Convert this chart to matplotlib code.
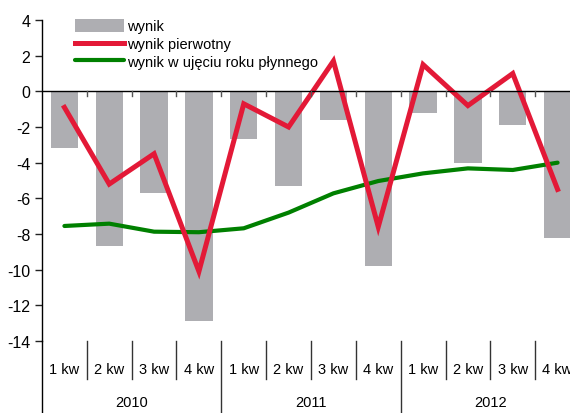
import numpy as np
import matplotlib.pyplot as plt
import matplotlib.transforms as mtransforms
from matplotlib.lines import Line2D

plt.rcParams['font.family'] = ['Liberation Sans', 'DejaVu Sans']

# --- Data ---
years = ['2010', '2011', '2012']
quarters = ['1 kw', '2 kw', '3 kw', '4 kw']
wynik = [-3.2, -8.7, -5.7, -12.9, -2.7, -5.3, -1.6, -9.8, -1.2, -4.0, -1.9, -8.2]
wynik_pierwotny = [-0.9, -5.2, -3.5, -10.1, -0.7, -2.0, 1.7, -7.6, 1.5, -0.8, 1.0, -5.5]
wynik_roku = [-7.55, -7.42, -7.87, -7.9, -7.68, -6.8, -5.72, -5.03, -4.6, -4.32, -4.41, -4.0]
y_ticks = [4, 2, 0, -2, -4, -6, -8, -10, -12, -14]

W, H = 570, 414
fig = plt.figure(figsize=(W / 100, H / 100), dpi=100)
ax = fig.add_axes([42 / W, 1 - 342 / H, (580 - 42) / W, (342 - 21) / H])

n = len(wynik)
x = np.arange(n)
fs = 10.5

bars = ax.bar(x, wynik, width=0.61, color='#AEAEB2', label='wynik', zorder=2)
l1, = ax.plot(x, wynik_pierwotny, color='#E31937', lw=3.6, label='wynik pierwotny',
              solid_joinstyle='miter', zorder=4)
l2, = ax.plot(x, wynik_roku, color='#008000', lw=3.0, label='wynik w ujęciu roku płynnego',
              solid_capstyle='round', zorder=3)

ax.axhline(0, color='black', lw=1.0, zorder=5)

ax.set_xlim(-0.5, n - 0.5)
ax.set_ylim(-14, 4)
ax.set_yticks(y_ticks)
ax.set_yticklabels([str(t) for t in y_ticks], fontsize=11.5)
ax.tick_params(axis='y', direction='out', length=5, width=1, pad=3.5, color='#222222')
ax.set_xticks([])
for s in ['top', 'right', 'bottom']:
    ax.spines[s].set_visible(False)
ax.spines['left'].set_linewidth(1)

# small ticks on the zero line between categories
for b in np.arange(0.5, n - 0.5, 1):
    ax.plot([b, b], [0, -0.28], color='#555555', lw=1, zorder=5)

# category axis below the plot
tr = mtransforms.blended_transform_factory(ax.transData, ax.transAxes)
ax_h_px = 342 - 21
def ay(py):
    return (342 - py) / ax_h_px

for i in range(n):
    ax.text(x[i], ay(370), quarters[i % 4], transform=tr, ha='center', va='center',
            fontsize=fs, clip_on=False)
    if i > 0:
        top, bottom = ay(342), ay(380) if i % 4 else ay(414)
        ax.add_line(Line2D([i - 0.5, i - 0.5], [top, bottom], transform=tr,
                           color='#333333', lw=1, clip_on=False))
for j, yr in enumerate(years):
    ax.text(4 * j + 1.5, ay(403), yr, transform=tr, ha='center', va='center',
            fontsize=fs, clip_on=False)

# left spine extended down to the bottom of the figure
ax.add_line(Line2D([-0.5, -0.5], [0, ay(414)], transform=tr, color='black',
                   lw=1, clip_on=False))

leg = ax.legend([bars, l1, l2], [bars.get_label(), l1.get_label(), l2.get_label()],
                loc='upper left', bbox_to_anchor=(0.05, 1.02), frameon=False,
                fontsize=fs, handlelength=3.4, handleheight=0.9, handletextpad=0.2,
                labelspacing=0.25, borderaxespad=0)

plt.savefig('out.png', dpi=100)
